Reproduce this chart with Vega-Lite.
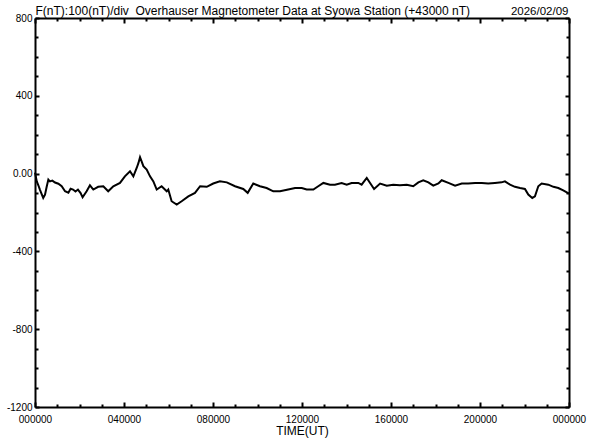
{
  "$schema": "https://vega.github.io/schema/vega-lite/v6.json",
  "width": 534,
  "height": 389,
  "autosize": "none",
  "padding": {"left": 35, "top": 18, "right": 23, "bottom": 33},
  "background": "white",
  "config": {
    "view": {"stroke": null},
    "axis": {
      "grid": false,
      "domainColor": "black",
      "domainWidth": 2,
      "tickColor": "black",
      "tickWidth": 2,
      "labelFont": "Liberation Sans",
      "labelFontSize": 10,
      "labelColor": "black",
      "labelFlush": false,
      "labelOverlap": false,
      "labelBound": false,
      "titleFont": "Liberation Sans",
      "titleFontWeight": "normal",
      "titleColor": "black"
    }
  },
  "data": {
    "values": [
      {"t": 0.0, "v": 5}, {"t": 0.08, "v": -40}, {"t": 0.15, "v": -60}, {"t": 0.22, "v": -82}, {"t": 0.3, "v": -105},
      {"t": 0.37, "v": -125}, {"t": 0.45, "v": -108}, {"t": 0.52, "v": -70}, {"t": 0.6, "v": -31}, {"t": 0.67, "v": -40},
      {"t": 0.78, "v": -36}, {"t": 0.9, "v": -46}, {"t": 1.05, "v": -52}, {"t": 1.2, "v": -65}, {"t": 1.35, "v": -91},
      {"t": 1.5, "v": -98}, {"t": 1.6, "v": -78}, {"t": 1.71, "v": -82}, {"t": 1.82, "v": -92}, {"t": 1.93, "v": -82},
      {"t": 2.05, "v": -100}, {"t": 2.14, "v": -122}, {"t": 2.32, "v": -91}, {"t": 2.47, "v": -60}, {"t": 2.62, "v": -82},
      {"t": 2.84, "v": -68}, {"t": 3.07, "v": -65}, {"t": 3.29, "v": -91}, {"t": 3.52, "v": -65}, {"t": 3.82, "v": -48},
      {"t": 4.04, "v": -14}, {"t": 4.27, "v": 12}, {"t": 4.42, "v": -14}, {"t": 4.57, "v": 29}, {"t": 4.65, "v": 55},
      {"t": 4.72, "v": 84}, {"t": 4.8, "v": 60}, {"t": 4.87, "v": 38}, {"t": 5.02, "v": 21}, {"t": 5.17, "v": -14},
      {"t": 5.32, "v": -40}, {"t": 5.47, "v": -82}, {"t": 5.69, "v": -65}, {"t": 5.92, "v": -91}, {"t": 5.99, "v": -82},
      {"t": 6.14, "v": -142}, {"t": 6.37, "v": -159}, {"t": 6.59, "v": -142}, {"t": 6.89, "v": -117}, {"t": 7.19, "v": -99},
      {"t": 7.42, "v": -65}, {"t": 7.72, "v": -68}, {"t": 8.01, "v": -51}, {"t": 8.31, "v": -40}, {"t": 8.62, "v": -45},
      {"t": 8.99, "v": -65}, {"t": 9.36, "v": -79}, {"t": 9.56, "v": -99}, {"t": 9.81, "v": -51}, {"t": 10.11, "v": -65},
      {"t": 10.41, "v": -74}, {"t": 10.71, "v": -91}, {"t": 11.01, "v": -91}, {"t": 11.38, "v": -82}, {"t": 11.69, "v": -74},
      {"t": 11.99, "v": -74}, {"t": 12.21, "v": -82}, {"t": 12.51, "v": -82}, {"t": 12.73, "v": -65}, {"t": 12.96, "v": -48},
      {"t": 13.26, "v": -57}, {"t": 13.48, "v": -57}, {"t": 13.78, "v": -48}, {"t": 14.01, "v": -57}, {"t": 14.23, "v": -48},
      {"t": 14.53, "v": -48}, {"t": 14.68, "v": -57}, {"t": 14.91, "v": -22}, {"t": 15.06, "v": -48}, {"t": 15.24, "v": -79},
      {"t": 15.51, "v": -51}, {"t": 15.81, "v": -62}, {"t": 16.1, "v": -57}, {"t": 16.4, "v": -60}, {"t": 16.71, "v": -57},
      {"t": 17.0, "v": -65}, {"t": 17.23, "v": -45}, {"t": 17.45, "v": -34}, {"t": 17.68, "v": -45}, {"t": 17.9, "v": -62},
      {"t": 18.13, "v": -51}, {"t": 18.28, "v": -34}, {"t": 18.58, "v": -48}, {"t": 18.88, "v": -62}, {"t": 19.18, "v": -51},
      {"t": 19.47, "v": -51}, {"t": 19.78, "v": -48}, {"t": 20.08, "v": -48}, {"t": 20.37, "v": -51}, {"t": 20.67, "v": -48},
      {"t": 20.97, "v": -45}, {"t": 21.12, "v": -40}, {"t": 21.35, "v": -57}, {"t": 21.57, "v": -68}, {"t": 21.8, "v": -74},
      {"t": 22.02, "v": -79}, {"t": 22.17, "v": -108}, {"t": 22.35, "v": -125}, {"t": 22.47, "v": -117}, {"t": 22.62, "v": -65},
      {"t": 22.77, "v": -51}, {"t": 23.07, "v": -57}, {"t": 23.3, "v": -68}, {"t": 23.52, "v": -74}, {"t": 23.74, "v": -86},
      {"t": 23.94, "v": -99}, {"t": 24.0, "v": -102}
    ]
  },
  "layer": [
    {
      "mark": {"type": "line", "color": "black", "strokeWidth": 2},
      "encoding": {
        "x": {
          "field": "t", "type": "quantitative",
          "scale": {"domain": [0, 24], "nice": false, "zero": false},
          "axis": {
            "orient": "bottom",
            "values": [0,1,2,3,4,5,6,7,8,9,10,11,12,13,14,15,16,17,18,19,20,21,22,23,24],
            "tickSize": {"condition": {"test": "datum.value % 4 == 0", "value": -5}, "value": -3},
            "labelPadding": 12,
            "labelExpr": "datum.value % 4 == 0 ? (datum.value == 24 ? '000000' : (datum.value < 10 ? '0' : '') + datum.value + '0000') : ''",
            "title": "TIME(UT)",
            "titleFontSize": 12,
            "titleX": 267,
            "titleY": 27,
            "titleBaseline": "alphabetic"
          }
        },
        "y": {
          "field": "v", "type": "quantitative",
          "scale": {"domain": [-1200, 800], "nice": false, "zero": false},
          "axis": {
            "orient": "left",
            "values": [-1200,-1100,-1000,-900,-800,-700,-600,-500,-400,-300,-200,-100,0,100,200,300,400,500,600,700,800],
            "tickSize": {"condition": {"test": "datum.value % 400 == 0", "value": -4}, "value": -3},
            "labelPadding": 7,
            "labelExpr": "datum.value % 400 == 0 ? (datum.value == 0 ? '0.00' : '' + datum.value) : ''",
            "title": "F(nT):100(nT)/div\u00a0 Overhauser Magnetometer Data at Syowa Station (+43000 nT)",
            "titleAngle": 0,
            "titleX": 0,
            "titleY": -4,
            "titleAlign": "left",
            "titleBaseline": "alphabetic",
            "titleFontSize": 12
          }
        }
      }
    },
    {
      "mark": {"type": "line", "color": "black", "opacity": 0},
      "encoding": {
        "x": {
          "field": "t", "type": "quantitative",
          "axis": {
            "orient": "top",
            "values": [0,1,2,3,4,5,6,7,8,9,10,11,12,13,14,15,16,17,18,19,20,21,22,23,24],
            "tickSize": {"condition": {"test": "datum.value % 4 == 0", "value": -5}, "value": -3},
            "labels": false,
            "title": null
          }
        },
        "y": {
          "field": "v", "type": "quantitative",
          "axis": {
            "orient": "right",
            "values": [-1200,-1100,-1000,-900,-800,-700,-600,-500,-400,-300,-200,-100,0,100,200,300,400,500,600,700,800],
            "tickSize": {"condition": {"test": "datum.value % 400 == 0", "value": -4}, "value": -3},
            "labels": false,
            "title": "2026/02/09",
            "titleAngle": 0,
            "titleX": -1,
            "titleY": -4,
            "titleAlign": "right",
            "titleBaseline": "alphabetic",
            "titleFontSize": 11.5
          }
        }
      }
    }
  ],
  "resolve": {"axis": {"x": "independent", "y": "independent"}}
}
